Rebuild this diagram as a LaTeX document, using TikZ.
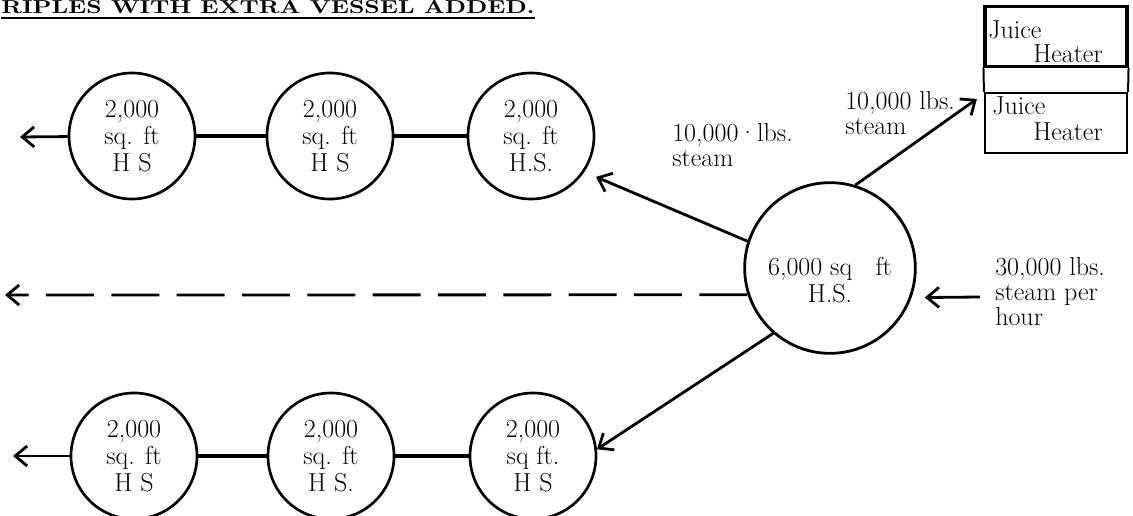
\documentclass[tikz,border=0pt]{standalone}
\usepackage{fontspec}
\usepackage{graphicx}
\usetikzlibrary{arrows.meta}
\tikzset{
  hsbarb/.tip={Straight Barb[length=9pt,width=15pt]},
  hs/.style={circle, draw, line width=2pt, minimum size=94.5pt, inner sep=0pt,
    align=center, font=\fontsize{19.5}{20.25}\selectfont},
  bighs/.style={circle, draw, line width=2.1pt, minimum size=128pt, inner sep=0pt},
  pipe/.style={line width=2.3pt},
  flow/.style={line width=2.1pt, -hsbarb},
  lbl/.style={anchor=base west, inner sep=0pt, font=\fontsize{19.5}{20}\selectfont},
  heater/.style={draw, minimum width=106.5pt, minimum height=45pt, inner sep=0pt},
}
\begin{document}
\begin{tikzpicture}[x=0.75pt,y=-0.75pt]
\useasboundingbox (0,0) rectangle (1133,516);
\clip (0,0) rectangle (1133,516);

% heading
\node[anchor=base west, inner sep=0pt] (title) at (1,14)
  {\resizebox{400pt}{9.8pt}{\bfseries RIPLES WITH EXTRA VESSEL ADDED.}};
\draw[line width=1.6pt] ([yshift=-3pt]title.base west) -- ([yshift=-3pt]title.base east);

% main vessel
\node[bighs] (main) at (830,268) {};
\node[align=center, inner sep=0pt, font=\fontsize{19.5}{20.25}\selectfont] (maintext) at (830,280)
  {6,000 sq\hspace{0.9em}ft\\H.S.};

% upper chain
\node[hs] (t1) at (132,136) {2,000\\sq. ft\\H S};
\node[hs] (t2) at (330,136) {2,000\\sq. ft\\H S};
\node[hs] (t3) at (531,136) {2,000\\sq. ft\\H.S.};

% lower chain
\node[hs] (b1) at (134,456) {2,000\\sq. ft\\H S};
\node[hs] (b2) at (331,456) {2,000\\sq. ft\\H S.};
\node[hs] (b3) at (533,456) {2,000\\sq ft.\\H S};

% juice heaters
\node[heater, line width=2.3pt] (hA) at (1056,36.5) {};
\node[heater, line width=1.6pt] (hB) at (1056,123) {};
\draw[line width=1.5pt] (hA.south west) -- (hB.north west);
\draw[line width=1.5pt] (hA.south east) -- (hB.north east);
\node[lbl] (hA1) at (988,39) {Juice};
\node[lbl] (hA2) at (1033,63) {Heater};
\node[lbl] (hB1) at (992,115) {Juice};
\node[lbl] (hB2) at (1033,141) {Heater};

% free ends
\coordinate (tout) at (20,137);
\coordinate (bout) at (13,456);
\coordinate (dout) at (5,295);
\coordinate (feed) at (980,297);
\coordinate (hin) at ([shift={(-7,7)}]hB.north west);

% connectors
\draw[pipe] (t1) -- (t2);
\draw[pipe] (t2) -- (t3);
\draw[pipe] (b1) -- (b2);
\draw[pipe] (b2) -- (b3);
\draw[flow] (t1) -- (tout);
\draw[flow] (b1) -- (bout);
\draw[line width=2.1pt, hsbarb-, dash pattern=on 36pt off 13pt, dash phase=21pt] (dout) -- (main.198);
\draw[flow, shorten >=9.5pt] (main.162) -- (t3.326);
\draw[flow] (main.229) -- (b3.6);
\draw[flow] (main.73) -- (hin);
\draw[flow, shorten >=10pt] (feed) -- (main.-20);

% labels
\node[lbl] (l1a) at (672,142) {10,000·lbs.};
\node[lbl] (l1b) at (672,167) {steam};
\node[lbl] (l2a) at (845,110) {10,000 lbs.};
\node[lbl] (l2b) at (845,135) {steam};
\node[lbl] (f1) at (995,276) {30,000 lbs.};
\node[lbl] (f2) at (995,301) {steam per};
\node[lbl] (f3) at (995,326) {hour};
\end{tikzpicture}
\end{document}
